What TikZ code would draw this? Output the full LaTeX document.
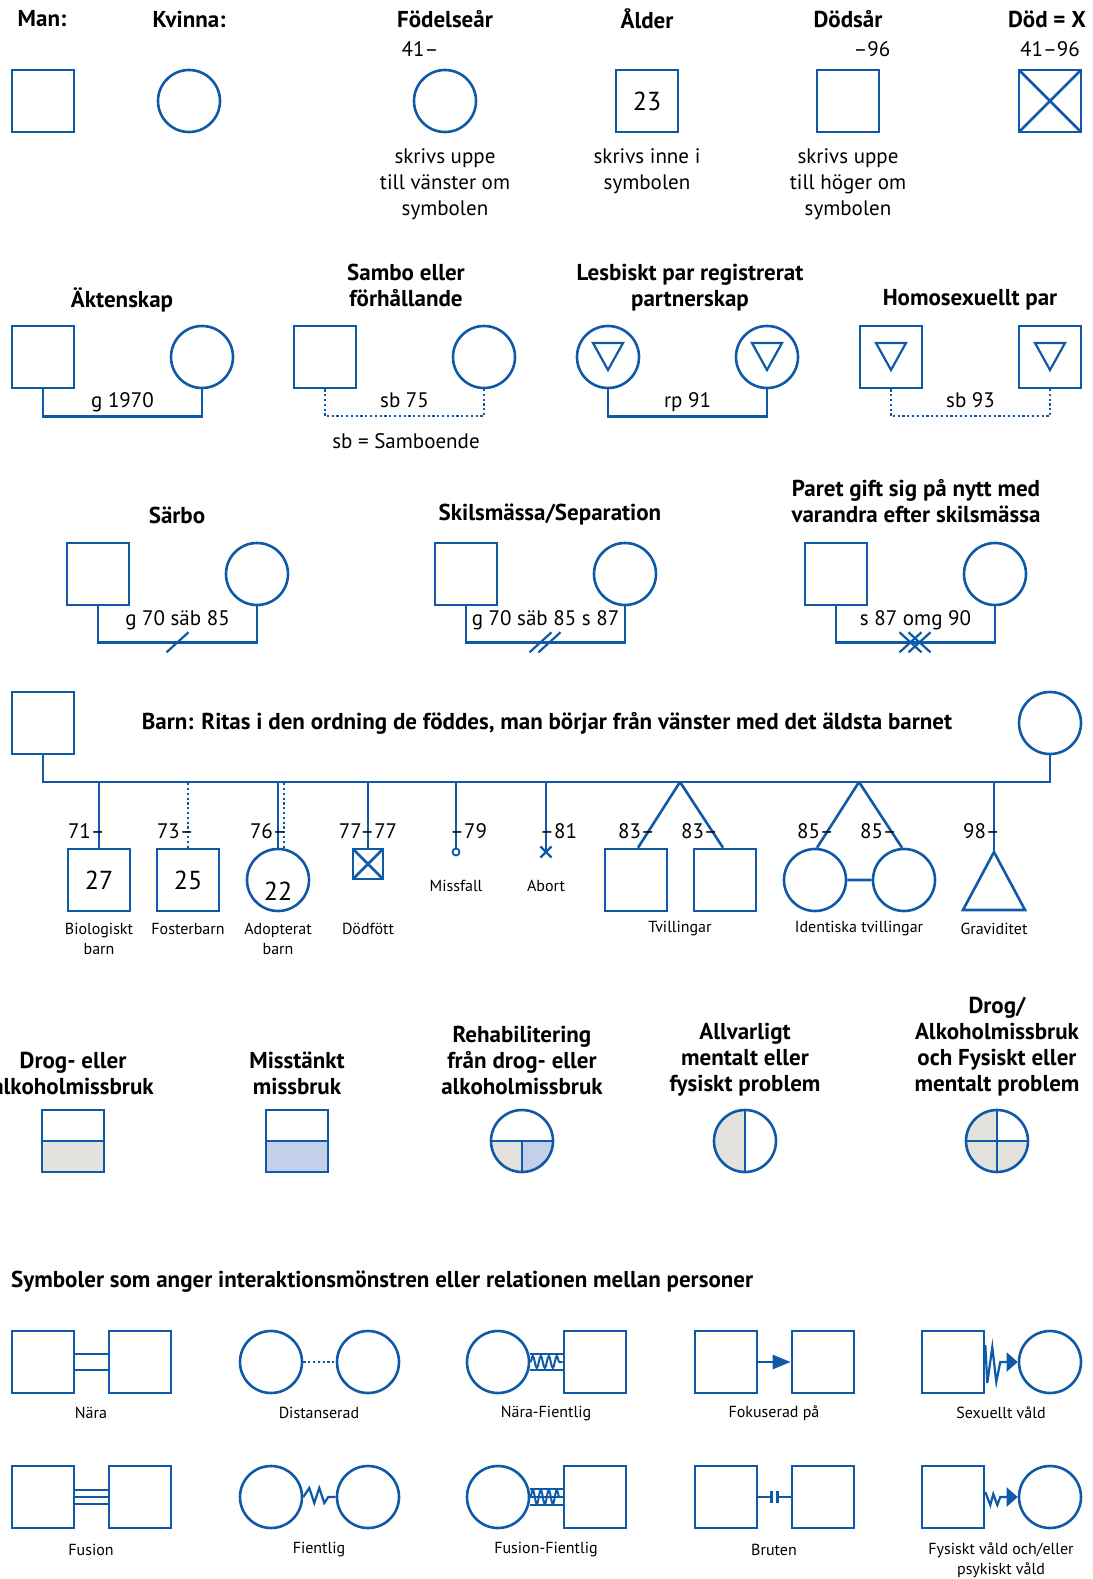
\documentclass[tikz,border=0pt]{standalone}
\usepackage{fontspec}
\setmainfont{PT Sans}
\usepackage{tikz}
\usetikzlibrary{positioning,arrows.meta,decorations.pathmorphing,shapes.misc}
\definecolor{gblue}{RGB}{14,90,168}
\definecolor{ggray}{RGB}{228,226,220}
\definecolor{glight}{RGB}{196,207,234}
\tikzset{
  man/.style={rectangle, draw=gblue, line width=2.6pt, minimum size=62pt, inner sep=0pt, font=\fontsize{26}{26}\selectfont},
  woman/.style={man, circle},
  rel/.style={draw=gblue, line width=2.6pt},
  reldot/.style={draw=gblue, line width=2.2pt, dash pattern=on 2.2pt off 2.6pt},
  head/.style={font=\bfseries\fontsize{23}{26}\selectfont, align=center},
  txt/.style={font=\fontsize{21}{26}\selectfont, align=center},
  lbl/.style={font=\fontsize{16}{20}\selectfont, align=center},
  crossed/.style={path picture={\draw[rel] (path picture bounding box.north west) -- (path picture bounding box.south east) (path picture bounding box.north east) -- (path picture bounding box.south west);}},
  tri/.style={path picture={\draw[rel, line width=2.2pt, line join=miter] ([shift={(-15,-14)}]path picture bounding box.center) -- ++(30,0) -- ++(-15,27) -- cycle;}},
  halffill/.style={path picture={\fill[#1] (path picture bounding box.west) rectangle (path picture bounding box.south east); \draw[rel] (path picture bounding box.west) -- (path picture bounding box.east);}},
  rehab/.style={path picture={\fill[ggray] (path picture bounding box.west) rectangle (path picture bounding box.south); \fill[glight] (path picture bounding box.center) rectangle (path picture bounding box.south east); \draw[rel] (path picture bounding box.west) -- (path picture bounding box.east) (path picture bounding box.center) -- (path picture bounding box.south);}},
  halfv/.style={path picture={\fill[ggray] (path picture bounding box.north west) rectangle (path picture bounding box.south); \draw[rel] (path picture bounding box.north) -- (path picture bounding box.south);}},
  quad/.style={path picture={\fill[ggray] (path picture bounding box.north west) rectangle (path picture bounding box.south east); \fill[white] (path picture bounding box.center) rectangle (path picture bounding box.north east); \draw[rel] (path picture bounding box.north) -- (path picture bounding box.south) (path picture bounding box.west) -- (path picture bounding box.east);}}
}
\begin{document}
\begin{tikzpicture}[x=1pt, y=-1pt, node distance=159pt, on grid]
   \useasboundingbox (0,0) rectangle (1092,1579);

   \node[head] (h_man) at (42,19) {Man:};
   \node[head] (h_kvinna) at (189,19) {Kvinna:};
   \node[head] (h_fodd) at (445,19) {Födelseår};
   \node[head] (h_alder) at (647,19) {Ålder};
   \node[head] (h_dods) at (848,19) {Dödsår};
   \node[head] (h_dod) at (1047,19) {Död = X};
   \node[man] (man) at (43,101) {};
   \node[woman] (kvinna) at (189,101) {};
   \node[woman] (fodd) at (445,101) {};
   \node[man] (alder) at (647,101) {23};
   \node[man] (dods) at (848,101) {};
   \node[man, crossed] (dod) at (1050,101) {};
   \node[txt] (fodd_ar) at (420,49) {41–};
   \node[txt] (dods_ar) at (872,49) {–96};
   \node[txt] (dod_ar) at (1050,49) {41–96};
   \node[txt] (fodd_txt) at (445,184) {skrivs uppe\\till vänster om\\symbolen};
   \node[txt] (alder_txt) at (647,171) {skrivs inne i\\symbolen};
   \node[txt] (dods_txt) at (848,184) {skrivs uppe\\till höger om\\symbolen};

   \node[head] (h_ak) at (122,300) {Äktenskap};
   \node[head] (h_sa) at (406,285) {Sambo eller\\förhållande};
   \node[head] (h_le) at (690,288) {Lesbiskt par registrerat\\partnerskap};
   \node[head] (h_ho) at (970,300) {Homosexuellt par};
   \node[man] (ak_m) at (43,357) {};
   \node[woman] (ak_f) [right=of ak_m] {};
   \node[man] (sa_m) at (325,357) {};
   \node[woman] (sa_f) [right=of sa_m] {};
   \node[woman, tri] (le_a) at (608,357) {};
   \node[woman, tri] (le_b) [right=of le_a] {};
   \node[man, tri] (ho_a) at (891,357) {};
   \node[man, tri] (ho_b) [right=of ho_a] {};
   \draw[rel] (ak_m.south) -- ++(0,27) -| node[pos=0.25, txt, anchor=base, yshift=9pt] (ak_lbl) {g 1970} (ak_f.south);
   \draw[reldot] (sa_m.south) -- ++(0,27) -| node[pos=0.25, txt, anchor=base, yshift=9pt] (sa_lbl) {sb 75} (sa_f.south);
   \draw[rel] (le_a.south) -- ++(0,27) -| node[pos=0.25, txt, anchor=base, yshift=9pt] (le_lbl) {rp 91} (le_b.south);
   \draw[reldot] (ho_a.south) -- ++(0,27) -| node[pos=0.25, txt, anchor=base, yshift=9pt] (ho_lbl) {sb 93} (ho_b.south);
   \node[txt] (sa_def) at (406,441) {sb = Samboende};

   \node[head] (h_sb) at (177,515) {Särbo};
   \node[head] (h_sk) at (550,515) {Skilsmässa/Separation};
   \node[head] (h_om) at (916,501) {Paret gift sig på nytt med\\varandra efter skilsmässa};
   \node[man] (sb_m) at (98,574) {};
   \node[woman] (sb_f) [right=of sb_m] {};
   \node[man] (sk_m) at (466,574) {};
   \node[woman] (sk_f) [right=of sk_m] {};
   \node[man] (om_m) at (836,574) {};
   \node[woman] (om_f) [right=of om_m] {};
   \draw[rel] (sb_m.south) -- ++(0,36) -| node[pos=0.25, txt, anchor=base, yshift=17pt] (sb_lbl) {g 70 säb 85} coordinate[pos=0.25] (sb_mid) (sb_f.south);
   \draw[rel] (sk_m.south) -- ++(0,36) -| node[pos=0.25, txt, anchor=base, yshift=17pt] (sk_lbl) {g 70 säb 85 s 87} coordinate[pos=0.25] (sk_mid) (sk_f.south);
   \draw[rel] (om_m.south) -- ++(0,36) -| node[pos=0.25, txt, anchor=base, yshift=17pt] (om_lbl) {s 87 omg 90} coordinate[pos=0.25] (om_mid) (om_f.south);
   \draw[rel, line width=2.2pt] ([shift={(-11,10)}]sb_mid) -- ([shift={(11,-10)}]sb_mid);
   \foreach \dx in {-5,4}
      \draw[rel, line width=2.2pt] ([shift={(\dx-11,10)}]sk_mid) -- ([shift={(\dx+11,-10)}]sk_mid);
   \foreach \dx in {-5,4}
      \draw[rel, line width=2.2pt] ([shift={(\dx-11,10)}]om_mid) -- ([shift={(\dx+11,-10)}]om_mid)
         ([shift={(\dx-11,-10)}]om_mid) -- ([shift={(\dx+11,10)}]om_mid);

   \node[man] (far) at (43,723) {};
   \node[woman] (mor) at (1050,723) {};
   \node[head] (h_barn) at (547,723) {Barn: Ritas i den ordning de föddes, man börjar från vänster med det äldsta barnet};
   \coordinate (sib) at (0,782);
   \draw[rel] (far.south) |- (mor.south |- sib) -- (mor.south);
   \node[man] (c_1) at (99,880) {27};
   \node[man] (c_2) at (188,880) {25};
   \node[woman] (c_3) at (278,880) {};
   \node[font=\fontsize{26}{26}\selectfont] (c_3_age) at (278,891) {22};
   \node[man, minimum size=30pt, crossed] (c_4) at (368,864) {};
   \node[circle, draw=gblue, line width=1.8pt, minimum size=7pt, inner sep=0pt] (c_5) at (456,852) {};
   \node[cross out, draw=gblue, line width=2.2pt, minimum size=9pt, inner sep=0pt] (c_6) at (546,852) {};
   \coordinate (tw) at (680,782);
   \node[man] (tw_a) at (636,880) {};
   \node[man] (tw_b) at (725,880) {};
   \coordinate (idt) at (859,782);
   \node[woman] (id_a) at (815,880) {};
   \node[woman] (id_b) at (904,880) {};
   \coordinate (grav) at (994,852);
   \draw[rel] (c_1.north) -- (c_1.north |- sib);
   \draw[reldot] (c_2.north) -- (c_2.north |- sib);
   \draw[rel] (c_3.north) -- (c_3.north |- sib);
   \draw[reldot] ([xshift=6pt]c_3.north) -- ++(0,-66);
   \draw[rel] (c_4.north) -- (c_4.north |- sib);
   \draw[rel] (c_5.north) -- (c_5.north |- sib);
   \draw[rel] (c_6.center) -- (c_6.center |- sib);
   \draw[rel] (tw) -- ([xshift=2pt]tw_a.north) (tw) -- ([xshift=-2pt]tw_b.north);
   \draw[rel] (idt) -- ([xshift=2pt]id_a.north) (idt) -- ([xshift=-2pt]id_b.north) (id_a.east) -- (id_b.west);
   \draw[rel] (grav |- sib) -- (grav);
   \draw[rel, line join=miter] (grav) -- ++(31,58) -- ++(-62,0) -- cycle;
   \node[txt, anchor=east, inner sep=0pt] (y_1) at (105,831) {71–};
   \node[txt, anchor=east, inner sep=0pt] (y_2) at (194,831) {73–};
   \node[txt, anchor=east, inner sep=0pt] (y_3) at (287,831) {76–};
   \node[txt, inner sep=0pt] (y_4) at (368,831) {77–77};
   \node[txt, anchor=west, inner sep=0pt] (y_5) at (450,831) {–79};
   \node[txt, anchor=west, inner sep=0pt] (y_6) at (540,831) {–81};
   \node[txt, anchor=east, inner sep=0pt] (y_7) at (655,831) {83–};
   \node[txt, anchor=east, inner sep=0pt] (y_8) at (718,831) {83–};
   \node[txt, anchor=east, inner sep=0pt] (y_9) at (834,831) {85–};
   \node[txt, anchor=east, inner sep=0pt] (y_10) at (897,831) {85–};
   \node[txt, anchor=east, inner sep=0pt] (y_11) at (1000,831) {98–};
   \node[lbl] (l_1) at (99,939) {Biologiskt\\barn};
   \node[lbl] (l_2) at (188,929) {Fosterbarn};
   \node[lbl] (l_3) at (278,939) {Adopterat\\barn};
   \node[lbl] (l_4) at (368,929) {Dödfött};
   \node[lbl] (l_5) at (456,886) {Missfall};
   \node[lbl] (l_6) at (546,886) {Abort};
   \node[lbl] (l_7) at (680,929) {Tvillingar};
   \node[lbl] (l_8) at (859,929) {Identiska tvillingar};
   \node[lbl] (l_9) at (994,929) {Graviditet};

   \node[head] (h_dr) at (73,1073) {Drog- eller\\alkoholmissbruk};
   \node[head] (h_mi) at (297,1073) {Misstänkt\\missbruk};
   \node[head] (h_re) at (522,1060) {Rehabilitering\\från drog- eller\\alkoholmissbruk};
   \node[head] (h_al) at (745,1060) {Allvarligt\\mentalt eller\\fysiskt problem};
   \node[head] (h_co) at (997,1047) {Drog/\\Alkoholmissbruk\\och Fysiskt eller\\mentalt problem};
   \node[man, halffill=ggray] (dr) at (73,1141) {};
   \node[man, halffill=glight] (mi) at (297,1141) {};
   \node[woman, rehab] (re) at (522,1141) {};
   \node[woman, halfv] (al) at (745,1141) {};
   \node[woman, quad] (co) at (997,1141) {};

   \node[head, anchor=west, inner sep=0pt] (h_sym) at (11,1282) {Symboler som anger interaktionsmönstren eller relationen mellan personer};
   \node[man] (na_a) at (43,1362) {};
   \node[man] (na_b) [right=97pt of na_a] {};
   \node[woman] (di_a) at (271,1362) {};
   \node[woman] (di_b) [right=97pt of di_a] {};
   \node[woman] (nf_a) at (498,1362) {};
   \node[man] (nf_b) [right=97pt of nf_a] {};
   \node[man] (fo_a) at (726,1362) {};
   \node[man] (fo_b) [right=97pt of fo_a] {};
   \node[man] (sx_a) at (953,1362) {};
   \node[woman] (sx_b) [right=97pt of sx_a] {};
   \node[man] (fu_a) at (43,1497) {};
   \node[man] (fu_b) [right=97pt of fu_a] {};
   \node[woman] (fi_a) at (271,1497) {};
   \node[woman] (fi_b) [right=97pt of fi_a] {};
   \node[woman] (ff_a) at (498,1497) {};
   \node[man] (ff_b) [right=97pt of ff_a] {};
   \node[man] (br_a) at (726,1497) {};
   \node[man] (br_b) [right=97pt of br_a] {};
   \node[man] (fy_a) at (953,1497) {};
   \node[woman] (fy_b) [right=97pt of fy_a] {};
   \draw[rel, line width=2.4pt] ([yshift=8pt]na_a.east) -- ([yshift=8pt]na_b.west) ([yshift=-8pt]na_a.east) -- ([yshift=-8pt]na_b.west);
   \draw[reldot] (di_a.east) -- (di_b.west);
   \draw[rel, line width=2.4pt] ([yshift=8pt]nf_a.east) -- ([yshift=8pt]nf_b.west) ([yshift=-8pt]nf_a.east) -- ([yshift=-8pt]nf_b.west);
   \draw[rel, line width=2pt, decorate, decoration={snake, segment length=8pt, amplitude=6pt}] (nf_a.east) -- (nf_b.west);
   \draw[rel, -{Triangle[length=18pt, width=14pt]}] (fo_a.east) -- (fo_b.west);
   \draw[rel, line width=2.2pt, line join=miter, -{Triangle[length=11pt, width=19pt]}] ([yshift=17pt]sx_a.east) -- ++(2,38) -- ++(5,-36) -- ++(4,35) -- ++(4,-20) -- (sx_b.west);
   \draw[rel, line width=2.4pt] ([yshift=7pt]fu_a.east) -- ([yshift=7pt]fu_b.west) (fu_a.east) -- (fu_b.west) ([yshift=-7pt]fu_a.east) -- ([yshift=-7pt]fu_b.west);
   \draw[rel, line width=2.2pt, line join=miter] (fi_a.east) -- ++(6,-9) -- ++(5,15) -- ++(5,-15) -- ++(5,15) -- ++(4,-6) -- (fi_b.west);
   \draw[rel, line width=2.4pt] ([yshift=8pt]ff_a.east) -- ([yshift=8pt]ff_b.west) (ff_a.east) -- (ff_b.west) ([yshift=-8pt]ff_a.east) -- ([yshift=-8pt]ff_b.west);
   \draw[rel, line width=2pt, decorate, decoration={snake, segment length=8pt, amplitude=7pt}] (ff_a.east) -- (ff_b.west);
   \draw[rel] (br_a.east) -- ++(13,0) ++(0,-6) -- ++(0,12);
   \draw[rel] (br_b.west) -- ++(-13,0) ++(0,-6) -- ++(0,12);
   \draw[rel, line width=2.2pt, line join=miter, -{Triangle[length=11pt, width=19pt]}] ([yshift=5pt]fy_a.east) -- ++(5,13) -- ++(3,-11) -- ++(4,11) -- ++(3,-8) -- (fy_b.west);
   \node[lbl] (l_na) at (91,1413) {Nära};
   \node[lbl] (l_di) at (319,1413) {Distanserad};
   \node[lbl] (l_nf) at (546,1413) {Nära-Fientlig};
   \node[lbl] (l_fo) at (774,1413) {Fokuserad på};
   \node[lbl] (l_sx) at (1001,1413) {Sexuellt våld};
   \node[lbl] (l_fu) at (91,1550) {Fusion};
   \node[lbl] (l_fi) at (319,1550) {Fientlig};
   \node[lbl] (l_ff) at (546,1550) {Fusion-Fientlig};
   \node[lbl] (l_br) at (774,1550) {Bruten};
   \node[lbl] (l_fy) at (1001,1560) {Fysiskt våld och/eller\\psykiskt våld};
\end{tikzpicture}
\end{document}
